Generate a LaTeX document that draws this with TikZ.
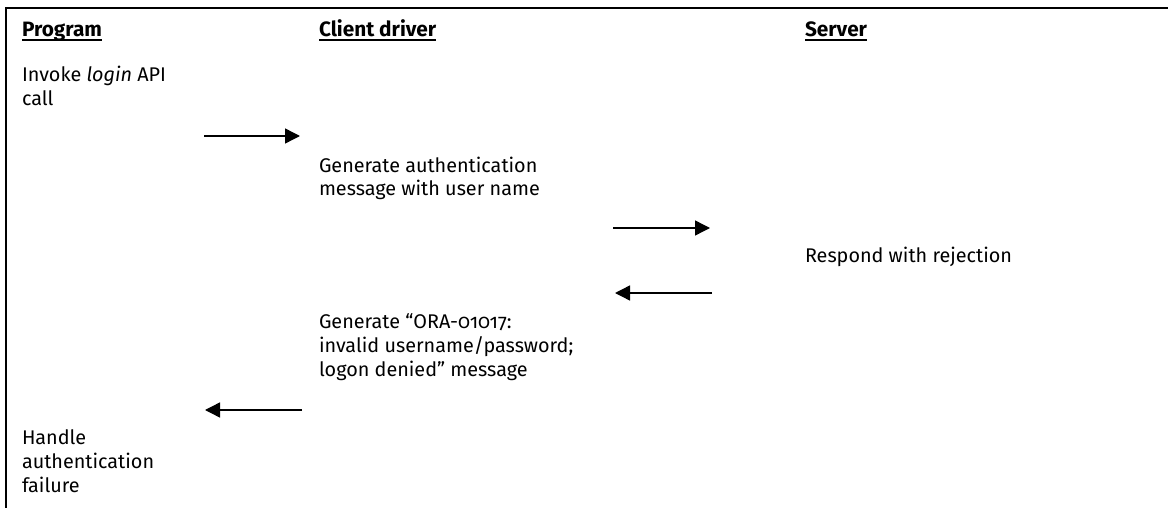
\documentclass[tikz,border=0pt]{standalone}
\usepackage{fontspec}
\setmainfont{Fira Sans}[Numbers=OldStyle]
\usetikzlibrary{arrows.meta}

\begin{document}
\begin{tikzpicture}[x=1pt,y=-1pt,
    every node/.style={inner sep=0pt,outer sep=0pt,font=\fontsize{19.8}{24}\selectfont},
    hdr/.style={anchor=base west,font=\fontsize{20.8}{24}\selectfont\bfseries},
    txt/.style={anchor=base west,align=left},
    frame/.style={line width=2.2pt},
    ul/.style={line width=1.4pt},
    msg/.style={line width=1.4pt,-{Triangle[length=15pt,width=15pt]}}]
  \useasboundingbox (0,0) rectangle (1168,508);
  \draw[frame] (1168,8) -- (6,8) -- (6,508);
  \node[hdr] (hprog)   at (22,37)  {Program};
  \node[hdr] (hclient) at (319,37) {Client driver\ };
  \node[hdr] (hserver) at (805,37) {Server};
  \draw[ul] ([yshift=-3pt]hprog.base west)   -- ([yshift=-3pt]hprog.base east);
  \draw[ul] ([yshift=-3pt]hclient.base west) -- ([yshift=-3pt]hclient.base east);
  \draw[ul] ([yshift=-3pt]hserver.base west) -- ([yshift=-3pt]hserver.base east);
  \node[txt] (invoke)  at (22,106)  {Invoke \textit{login} API\\call};
  \node[txt] (genauth) at (319,196) {Generate authentication\\message with user name};
  \node[txt] (reject)  at (805,262) {Respond with rejection};
  \node[txt] (generr)  at (319,376) {Generate “ORA-01017:\\invalid username/password;\\logon denied” message};
  \node[txt] (handle)  at (22,492) {Handle\\authentication\\failure};
  \coordinate (m1a) at (204,136);
  \coordinate (m1b) at (300,136);
  \coordinate (m2a) at (613,228);
  \coordinate (m2b) at (710,228);
  \coordinate (m3a) at (712,293);
  \coordinate (m3b) at (615,293);
  \coordinate (m4a) at (302,410);
  \coordinate (m4b) at (205,410);
  \draw[msg] (m1a) -- (m1b);
  \draw[msg] (m2a) -- (m2b);
  \draw[msg] (m3a) -- (m3b);
  \draw[msg] (m4a) -- (m4b);
\end{tikzpicture}
\end{document}
